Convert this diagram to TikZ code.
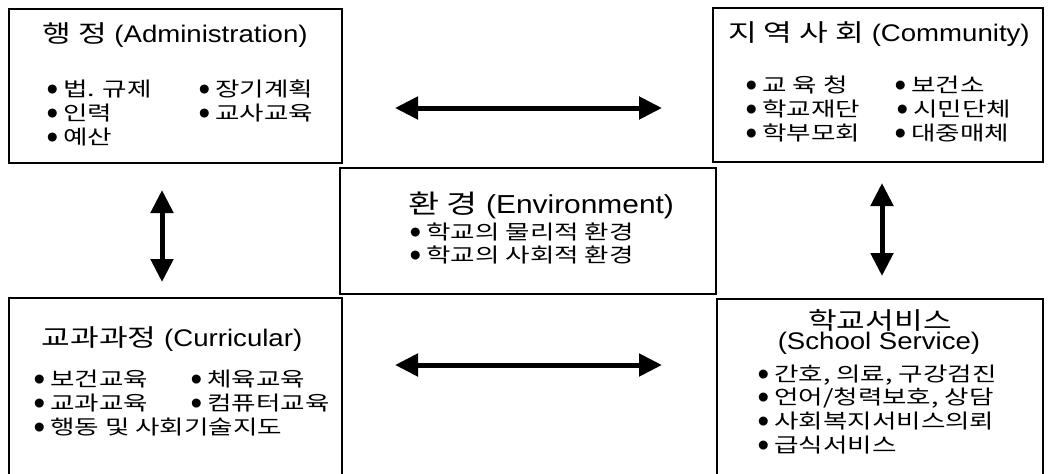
\documentclass[tikz,border=0pt]{standalone}
\usepackage{fontspec}
\setmainfont{Liberation Sans}[FakeStretch=1.15]
\newfontfamily\bulfont{Liberation Sans}
\newfontfamily\krT{Noto Sans CJK KR}[FakeStretch=1.3]
\newfontfamily\kr{Noto Sans CJK KR}[FakeStretch=1.33]
\newcommand\bul{\makebox[15pt][l]{\hspace{-1.7pt}\smash{\raisebox{-4.4pt}{\bulfont\fontsize{33}{33}\selectfont •}}}}
\usetikzlibrary{arrows.meta}
\tikzset{
  box/.style={draw, line width=1.8pt, inner sep=0pt, outer sep=0pt},
  ttl/.style={inner sep=0pt, anchor=base, font=\fontsize{24}{28}\selectfont},
  itm/.style={inner sep=0pt, anchor=base west, font=\fontsize{20}{24}\selectfont},
  dbl/.style={line width=5pt, {Triangle[length=23pt,width=22pt]}-{Triangle[length=23pt,width=22pt]}},
}
\begin{document}
\begin{tikzpicture}[x=1pt,y=-1pt]
\useasboundingbox (0,0) rectangle (1050,474);
\clip (0,0) rectangle (1050,474);
% boxes
\node[box, minimum width=333pt, minimum height=154pt] (adm) at (175.5,86) {};
\node[box, minimum width=330pt, minimum height=154pt] (com) at (878,85) {};
\node[box, minimum width=376pt, minimum height=126pt] (env) at (528,231) {};
\node[box, minimum width=333pt, minimum height=202pt] (cur) at (175.5,399) {};
\node[box, minimum width=326pt, minimum height=201pt] (svc) at (880,399.5) {};
% administration
\node[ttl] (admT) at (175,42) {{\krT 행 정} (Administration)};
\node[itm] (adm1) at (48,96) {\bul{\kr 법. 규제}};
\node[itm] (adm2) at (48,120) {\bul{\kr 인력}};
\node[itm] (adm3) at (48,144) {\bul{\kr 예산}};
\node[itm] (adm4) at (200,96) {\bul{\kr 장기계획}};
\node[itm] (adm5) at (200,120) {\bul{\kr 교사교육}};
% community
\node[ttl] (comT) at (879,41) {{\krT 지 역 사 회} (Community)};
\node[itm] (com1) at (747,92) {\bul{\kr 교 육 청}};
\node[itm] (com2) at (747,116) {\bul{\kr 학교재단}};
\node[itm] (com3) at (747,140) {\bul{\kr 학부모회}};
\node[itm] (com4) at (896,92) {\bul{\kr 보건소}};
\node[itm] (com5) at (898,116) {\bul{\kr 시민단체}};
\node[itm] (com6) at (896,140) {\bul{\kr 대중매체}};
% environment
\node[ttl, font=\fontsize{26}{28}\selectfont] (envT) at (541,213) {{\krT 환 경} (Environment)};
\node[itm] (env1) at (411,239) {\bul{\kr 학교의 물리적 환경}};
\node[itm] (env2) at (411,262) {\bul{\kr 학교의 사회적 환경}};
% curricular
\node[ttl] (curT) at (172,346) {{\krT 교과과정} (Curricular)};
\node[itm] (cur1) at (35,386) {\bul{\kr 보건교육}};
\node[itm] (cur2) at (35,410) {\bul{\kr 교과교육}};
\node[itm] (cur3) at (35,434) {\bul{\kr 행동 및 사회기술지도}};
\node[itm] (cur4) at (192,386) {\bul{\kr 체육교육}};
\node[itm] (cur5) at (192,410) {\bul{\kr 컴퓨터교육}};
% school service
\node[ttl] (svcT1) at (880,329) {{\krT 학교서비스}};
\node[ttl] (svcT2) at (879,349) {(School Service)};
\node[itm] (svc1) at (759,381) {\bul{\kr 간호, 의료, 구강검진}};
\node[itm] (svc2) at (759,404) {\bul{\kr 언어/청력보호, 상담}};
\node[itm] (svc3) at (759,428) {\bul{\kr 사회복지서비스의뢰}};
\node[itm] (svc4) at (759,452) {\bul{\kr 급식서비스}};
% arrows
\coordinate (h1a) at (395,108); \coordinate (h1b) at (662,108);
\coordinate (h2a) at (395,365); \coordinate (h2b) at (662,365);
\coordinate (v1a) at (162,190); \coordinate (v1b) at (162,282);
\coordinate (v2a) at (882,183); \coordinate (v2b) at (882,276);
\draw[dbl] (h1a) -- (h1b);
\draw[dbl] (h2a) -- (h2b);
\draw[dbl] (v1a) -- (v1b);
\draw[dbl] (v2a) -- (v2b);
\end{tikzpicture}
\end{document}
